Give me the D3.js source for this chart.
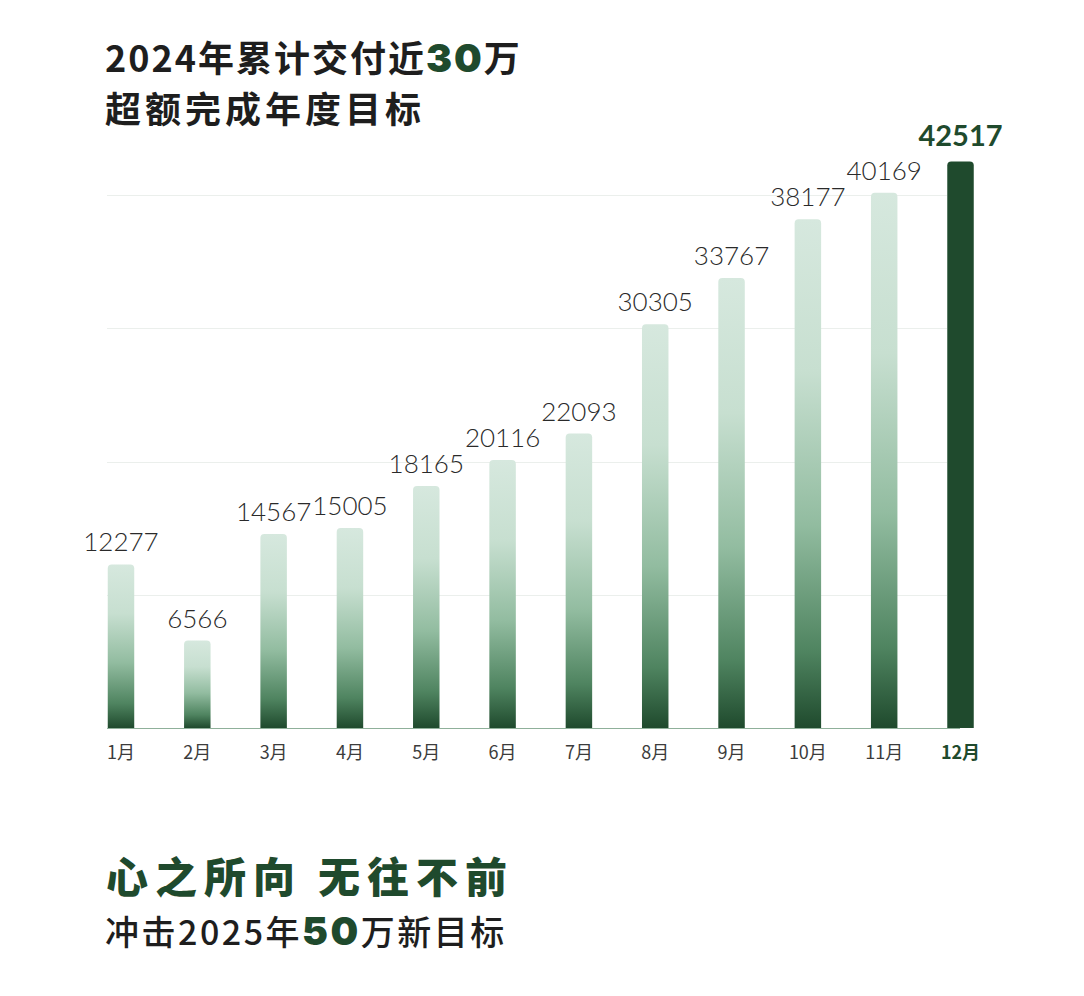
<!DOCTYPE html>
<html>
<head>
<meta charset="utf-8">
<script src="https://cdn.jsdelivr.net/npm/d3@7/dist/d3.min.js"></script>
<style>
  html, body { margin: 0; padding: 0; background: #ffffff; }
  svg { display: block; }
</style>
</head>
<body>
<svg id="chart" width="1084" height="996"></svg>
<script>
const months = ["1月","2月","3月","4月","5月","6月","7月","8月","9月","10月","11月","12月"];
const deliveries = [12277, 6566, 14567, 15005, 18165, 20116, 22093, 30305, 33767, 38177, 40169, 42517];
const gridValues = [10000, 20000, 30000, 40000];
const titleLine1 = [["2024年累计交付近", false], ["30", true], ["万", false]];
const titleLine2 = "超额完成年度目标";
const sloganLine1 = ["心之所向", "无往不前"];
const sloganLine2 = [["冲击2025年", false], ["50", true], ["万新目标", false]];

const GREEN = "#1f4a2d";
const svg = d3.select("#chart");
const W = 1084, H = 996;
svg.append("rect").attr("width", W).attr("height", H).attr("fill", "#ffffff");

const x = d3.scaleBand().domain(months).range([107.75, 973.75]).paddingInner(0.653).paddingOuter(0);
const y = d3.scaleLinear().domain([0, 40000]).range([728, 195]);

// gradient
const defs = svg.append("defs");
const grad = defs.append("linearGradient").attr("id", "barGrad")
  .attr("x1", 0).attr("y1", 0).attr("x2", 0).attr("y2", 1);
[[0, "#d6e8de"], [0.3, "#c7dfd0"], [0.6, "#92bca0"], [0.85, "#4f8460"], [1, "#1f4a2d"]]
  .forEach(([o, c]) => grad.append("stop").attr("offset", o).attr("stop-color", c));

// gridlines
svg.append("g").selectAll("line").data(gridValues).join("line")
  .attr("x1", 107).attr("x2", 947)
  .attr("y1", d => Math.round(y(d)) + 0.5).attr("y2", d => Math.round(y(d)) + 0.5)
  .attr("stroke", "#ebefec").attr("stroke-width", 1.2);

// bars with rounded top corners
function barPath(x0, w, yTop, yBot, r) {
  return `M${x0},${yBot} L${x0},${yTop + r} Q${x0},${yTop} ${x0 + r},${yTop} L${x0 + w - r},${yTop} Q${x0 + w},${yTop} ${x0 + w},${yTop + r} L${x0 + w},${yBot} Z`;
}
const data = months.map((m, i) => ({ m, v: deliveries[i], last: i === months.length - 1 }));

svg.append("g").selectAll("path").data(data).join("path")
  .attr("d", d => barPath(x(d.m), x.bandwidth(), y(d.v), y(0), 4))
  .attr("fill", d => d.last ? GREEN : "url(#barGrad)");

// baseline
svg.append("line").attr("x1", 107).attr("x2", 960).attr("y1", y(0) + 0.5).attr("y2", y(0) + 0.5)
  .attr("stroke", "#8fb09a").attr("stroke-width", 1.2);

// value labels
svg.append("g").selectAll("text").data(data).join("text")
  .attr("x", d => x(d.m) + x.bandwidth() / 2)
  .attr("y", d => y(d.v) - (d.last ? 15 : 13))
  .attr("text-anchor", "middle")
  .attr("font-family", "Lato, 'Noto Sans', sans-serif")
  .attr("font-weight", d => d.last ? 700 : 300)
  .attr("font-size", d => d.last ? 29 : 26)
  .attr("fill", d => d.last ? GREEN : "#2a2a2a")
  .text(d => d.v);

// x axis labels
svg.append("g").selectAll("text").data(data).join("text")
  .attr("x", d => x(d.m) + x.bandwidth() / 2)
  .attr("y", 759)
  .attr("text-anchor", "middle")
  .attr("font-family", "'Noto Sans CJK SC', sans-serif")
  .attr("font-weight", d => d.last ? 700 : 400)
  .attr("font-size", 18)
  .attr("fill", d => d.last ? GREEN : "#3c3c3c")
  .text(d => d.m);

// titles
function richText(parts, xPos, yPos, size, weight, accentSize, ls) {
  const t = svg.append("text").attr("x", xPos).attr("y", yPos)
    .attr("font-family", "'Noto Sans CJK SC', sans-serif")
    .attr("font-size", size).attr("font-weight", weight).attr("fill", "#1e1e1e")
    .attr("letter-spacing", ls);
  parts.forEach(([s, accent]) => {
    const ts = t.append("tspan").text(s);
    if (accent) ts.attr("fill", GREEN).attr("font-weight", 900).attr("font-size", accentSize)
      .attr("font-family", "Inter, 'Noto Sans', sans-serif");
  });
  return t;
}
richText(titleLine1, 105, 72, 36, 700, 39, 2);
svg.append("text").attr("x", 105).attr("y", 123)
  .attr("font-family", "'Noto Sans CJK SC', sans-serif")
  .attr("font-size", 36).attr("font-weight", 700).attr("fill", "#1e1e1e")
  .attr("letter-spacing", 4).text(titleLine2);

const s1 = svg.append("text").attr("x", 106).attr("y", 893)
  .attr("font-family", "'Noto Sans CJK SC', sans-serif")
  .attr("font-size", 42).attr("font-weight", 900).attr("fill", GREEN)
  .attr("letter-spacing", 7);
s1.append("tspan").text(sloganLine1[0]);
s1.append("tspan").attr("dx", 16).text(sloganLine1[1]);
richText(sloganLine2, 105, 945, 34, 500, 39, 2.5);
</script>
</body>
</html>
